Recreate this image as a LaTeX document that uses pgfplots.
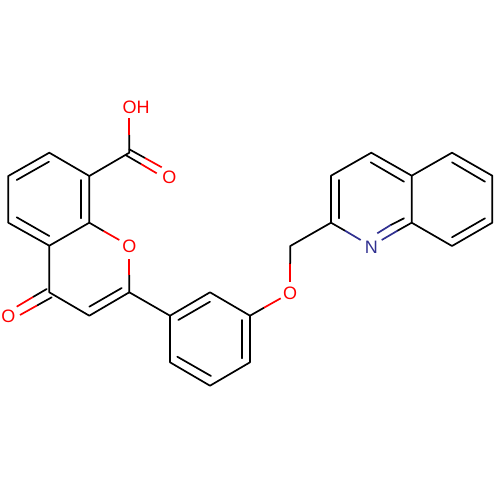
\documentclass[border=0pt]{standalone}
\usepackage{fontspec}
\setmainfont{Liberation Sans}
\usepackage{pgfplots}
\pgfplotsset{compat=1.18}
\definecolor{oxy}{RGB}{255,0,0}
\definecolor{nit}{RGB}{48,48,144}
\pgfplotsset{
  bk/.style={black,line width=1.7pt,line join=round,line cap=round,no markers},
  rd/.style={oxy,line width=1.7pt,no markers},
  bl/.style={nit,line width=1.7pt,no markers},
}
\tikzset{atom/.style={font=\fontsize{18}{18}\selectfont,inner sep=0pt,anchor=center}}
\begin{document}
\begin{tikzpicture}
\begin{axis}[
    scale only axis, width=500pt, height=500pt,
    xmin=0, xmax=500, ymin=0, ymax=500,
    y dir=reverse,
    axis lines=none,
    clip=false,
]
% keep the whole square as the page
\path (rel axis cs:0,0) rectangle (rel axis cs:1,1);
% benzo ring of the chromone, with C4 and the acid carbon
\addplot[bk] coordinates {(49.3,245.7) (8.3,222.7) (8.3,176) (49.3,152.7) (89.3,176) (89.3,222.7) (49.3,245.7) (49.3,292.3) (89.3,315.7) (129.3,292.3) (129.3,275)};
\addplot[bk] coordinates {(16.7,180) (49,161.7)};
\addplot[bk] coordinates {(81,180) (81,218.3)};
\addplot[bk] coordinates {(16.7,217.3) (49.3,236)};
\addplot[bk] coordinates {(89.3,306.7) (121.7,288)};
% ring oxygen
\addplot[bk] coordinates {(89.3,222.7) (103.5,231)};
\addplot[rd] coordinates {(103.5,231) (119.3,240)};
\addplot[rd] coordinates {(129.3,259) (129.3,275)};
% acid
\addplot[bk] coordinates {(89.3,176) (129.3,152.7) (129.3,135)};
\addplot[rd] coordinates {(129.3,135) (129.3,118.3)};
\addplot[bk] coordinates {(129.3,149.3) (145,158)};
\addplot[rd] coordinates {(145,158) (161.7,167.3)};
\addplot[bk] coordinates {(126,155.3) (141,164)};
\addplot[rd] coordinates {(141,164) (156.7,173.3)};
% ketone
\addplot[bk] coordinates {(46.7,289) (33,297)};
\addplot[rd] coordinates {(33,297) (16.7,306.7)};
\addplot[bk] coordinates {(51.7,297.3) (37,305.5)};
\addplot[rd] coordinates {(37,305.5) (20,315)};
% phenyl
\addplot[bk] coordinates {(129.3,292.3) (170,315.7) (210,292.3) (250,315.7) (250,362.3) (210,385.7) (170,362.3) (170,315.7)};
\addplot[bk] coordinates {(178.3,320) (210,301.7)};
\addplot[bk] coordinates {(241.7,320) (241.7,358.3)};
\addplot[bk] coordinates {(177.3,356.7) (211,376)};
% ether link
\addplot[bk] coordinates {(250,315.7) (264,307.7)};
\addplot[rd] coordinates {(264,307.7) (280.7,298.3)};
\addplot[rd] coordinates {(290.3,281.7) (290.3,263.3)};
\addplot[bk] coordinates {(290.3,263.3) (290.3,246) (331,222.7)};
% quinoline
\addplot[bk] coordinates {(345,230.7) (331,222.7) (331,175.7) (371.3,152.7) (411.7,175.7) (411.7,222.7) (452,246) (492.3,222.7) (492.3,175.7) (452,152.7) (411.7,175.7)};
\addplot[bk] coordinates {(411.7,222.7) (397.5,230.7)};
\addplot[bl] coordinates {(345,230.7) (360.7,240)};
\addplot[bl] coordinates {(397.5,230.7) (381.7,240)};
\addplot[bk] coordinates {(404,218.3) (390.7,225)};
\addplot[bl] coordinates {(390.7,225) (377.3,233.3)};
\addplot[bk] coordinates {(339.3,180) (339.3,218.3)};
\addplot[bk] coordinates {(370.7,162.3) (404,181.7)};
\addplot[bk] coordinates {(452,162.3) (485,181.7)};
\addplot[bk] coordinates {(485,218.3) (452,237.3)};
% atom labels
\node[atom,text=oxy] at (axis cs:136,107.3) {OH};
\node[atom,text=oxy] at (axis cs:169.3,177.3) {O};
\node[atom,text=oxy] at (axis cs:129.3,246.7) {O};
\node[atom,text=oxy] at (axis cs:8.3,316.7) {O};
\node[atom,text=oxy] at (axis cs:290,293.3) {O};
\node[atom,text=nit] at (axis cs:371.3,247.3) {N};
\end{axis}
\end{tikzpicture}
\end{document}
